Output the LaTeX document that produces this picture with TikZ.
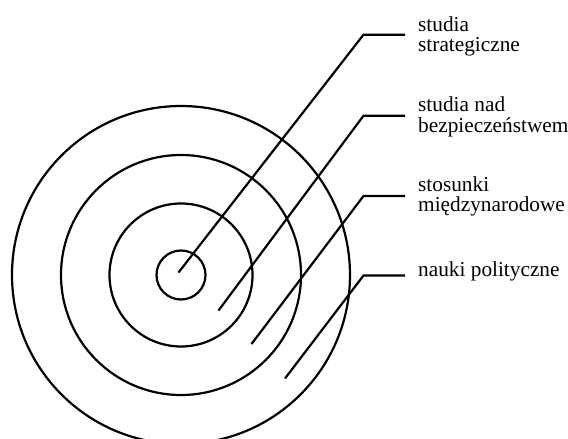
\documentclass[tikz,border=0pt]{standalone}
\usepackage{fontspec}
\setmainfont{Liberation Serif}
\begin{document}
\begin{tikzpicture}[x=1pt,y=-1pt,
  ring/.style={line width=2.2pt},
  leader/.style={line width=2.2pt},
  lab/.style={anchor=base west,inner sep=0pt,font=\fontsize{21.3}{20.7}\selectfont}]
\useasboundingbox (0,0) rectangle (568,439);
\coordinate (c) at (181,275);
\draw[ring] (c) circle[radius=24.5];
\draw[ring] (c) circle[radius=71.5];
\draw[ring] (c) circle[radius=120];
\draw[ring] (c) circle[radius=169];
% labels
\node[lab] (l1) at (418,31) {\begin{tabular}[t]{@{}l@{}}studia\\strategiczne\end{tabular}};
\node[lab] (l2) at (418,111) {\begin{tabular}[t]{@{}l@{}}studia nad\\bezpieczeństwem\end{tabular}};
\node[lab] (l3) at (418,191) {\begin{tabular}[t]{@{}l@{}}stosunki\\międzynarodowe\end{tabular}};
\node[lab] (l4) at (418,276) {nauki polityczne};
% leader points
\coordinate (e1) at (178.5,272.5);
\coordinate (e2) at (218.5,310.5);
\coordinate (e3) at (251.5,344);
\coordinate (e4) at (285,378.5);
\coordinate (b1) at (363.5,34.7);
\coordinate (b2) at (363.5,115.7);
\coordinate (b3) at (363.5,196);
\coordinate (b4) at (363.5,275.5);
\coordinate (h1) at (405,34.7);
\coordinate (h2) at (405,115.7);
\coordinate (h3) at (405,196);
\coordinate (h4) at (405,275.5);
\draw[leader] (e1) -- (b1) -- (h1);
\draw[leader] (e2) -- (b2) -- (h2);
\draw[leader] (e3) -- (b3) -- (h3);
\draw[leader] (e4) -- (b4) -- (h4);
\end{tikzpicture}
\end{document}
